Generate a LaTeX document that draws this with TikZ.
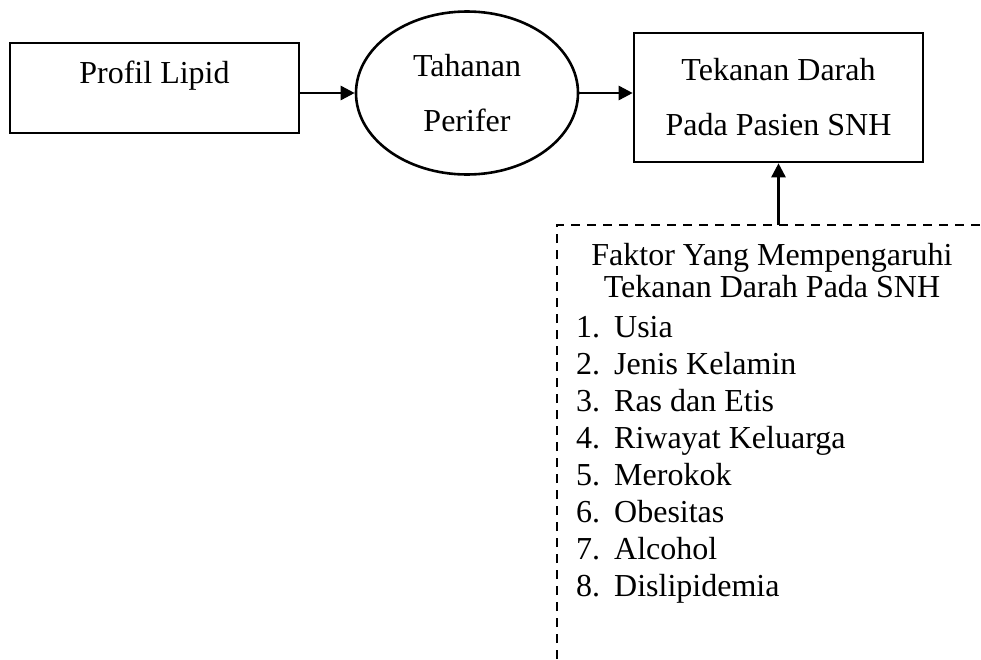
\documentclass[tikz,border=0pt]{standalone}
\usepackage{fontspec}
\setmainfont{Liberation Serif}
\usetikzlibrary{arrows.meta,shapes.geometric,positioning}

\newcommand{\nitem}[2]{\makebox[38pt][l]{#1.}#2}

\begin{document}
\begin{tikzpicture}[x=1pt,y=-1pt,
  every node/.style={font=\fontsize{32}{37}\selectfont},
  kotak/.style={draw,line width=2.6pt,rectangle,inner sep=0pt,align=center},
  bulat/.style={draw,line width=2.6pt,ellipse,inner sep=0pt,align=center,minimum width=222pt,minimum height=163pt},
  panah/.style={line width=2.6pt,-{Triangle[length=14pt,width=14pt]}},
  putus/.style={line width=2.6pt,dash pattern=on 9pt off 7pt}]

\useasboundingbox (0,0) rectangle (981,659);

\node[kotak, minimum width=289pt, minimum height=90pt, text height=22pt, text depth=31pt] (lipid) at (154.5,88) {Profil Lipid};
\node[bulat, font=\fontsize{32}{55}\selectfont] (tahanan) at (467,93) {Tahanan\\Perifer};
\node[kotak, minimum width=289pt, minimum height=129pt, font=\fontsize{32}{55}\selectfont] (tekanan) at (778.5,97.5) {Tekanan Darah\\Pada Pasien SNH};

\draw[panah] (lipid.east |- tahanan.west) -- (tahanan.west);
\draw[panah] (tahanan.east) -- (tahanan.east -| tekanan.west);

% kotak faktor (putus-putus)
\coordinate (kiri) at (557,659);
\coordinate (kanan) at (981,225);
\draw[putus] (kiri) |- (kanan);
\coordinate (sambung) at (tekanan.south |- kanan);
\draw[panah] (sambung) -- (tekanan.south);

\node[align=center, inner sep=0pt, font=\fontsize{32}{32}\selectfont] (judul) at (772,271) {Faktor Yang Mempengaruhi\\Tekanan Darah Pada SNH};
\node[align=left, inner sep=0pt, anchor=north west] (daftar) at (576,316) {\nitem{1}{Usia}\\
\nitem{2}{Jenis Kelamin}\\
\nitem{3}{Ras dan Etis}\\
\nitem{4}{Riwayat Keluarga}\\
\nitem{5}{Merokok}\\
\nitem{6}{Obesitas}\\
\nitem{7}{Alcohol}\\
\nitem{8}{Dislipidemia}};

\end{tikzpicture}
\end{document}
